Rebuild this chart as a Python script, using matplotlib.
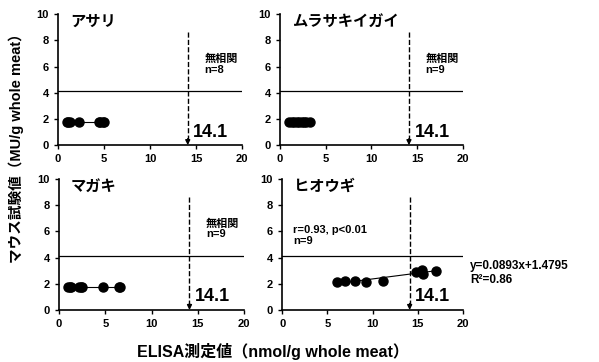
import numpy as np
import matplotlib
matplotlib.use("Agg")
import matplotlib.pyplot as plt

plt.rcParams['font.family'] = ['Liberation Sans', 'Noto Sans CJK JP', 'DejaVu Sans']
plt.rcParams['font.weight'] = 'bold'

# --- data ---
names = ['アサリ', 'ムラサキイガイ', 'マガキ', 'ヒオウギ']
asari_x = [1.0, 1.1, 1.3, 2.3, 4.4, 4.6, 4.9, 5.0]
asari_y = [1.8, 1.8, 1.8, 1.8, 1.8, 1.8, 1.8, 1.8]
murasaki_x = [1.0, 1.3, 1.6, 1.9, 2.1, 2.4, 2.6, 2.9, 3.3]
murasaki_y = [1.8, 1.8, 1.8, 1.8, 1.8, 1.8, 1.8, 1.8, 1.8]
magaki_x = [1.0, 1.2, 1.3, 2.2, 2.4, 2.5, 4.8, 6.5, 6.6]
magaki_y = [1.78, 1.78, 1.78, 1.78, 1.78, 1.78, 1.78, 1.78, 1.78]
hiougi_x = [6.1, 6.9, 8.1, 9.3, 11.1, 14.8, 15.5, 15.6, 17.0]
hiougi_y = [2.11, 2.21, 2.24, 2.11, 2.24, 2.87, 3.05, 2.75, 2.98]
slope, icpt = 0.0893, 1.4795
limit_y = 4.1
cutoff_x = 14.1
notes = ['無相関\nn=8', '無相関\nn=9', '無相関\nn=9', 'r=0.93, p<0.01\nn=9']

xs = [asari_x, murasaki_x, magaki_x, hiougi_x]
ys = [asari_y, murasaki_y, magaki_y, hiougi_y]

fig = plt.figure(figsize=(5.99, 3.62), dpi=100)
positions = [
    [0.097, 0.599, 0.307, 0.362],
    [0.467, 0.599, 0.306, 0.362],
    [0.0985, 0.1436, 0.309, 0.362],
    [0.471, 0.1436, 0.302, 0.362],
]

for i in range(4):
    ax = fig.add_axes(positions[i])
    x = np.array(xs[i])
    y = np.array(ys[i])
    ax.plot(x, y, 'o', color='black', ms=6.5)
    if i == 3:
        xl = np.array([x.min(), x.max()])
        ax.plot(xl, slope * xl + icpt, color='black', lw=0.8)
    else:
        ax.plot([x.min(), x.max()], [y.mean(), y.mean()], color='black', lw=0.8)
    ax.axhline(limit_y, color='black', lw=0.9)
    ax.plot([cutoff_x, cutoff_x], [8.6, 0.4], color='black', ls='--', lw=1.0, clip_on=False)
    ax.annotate('', xy=(cutoff_x, 0.0), xytext=(cutoff_x, 0.5),
                arrowprops=dict(arrowstyle='-|>', color='black', lw=1.0,
                                mutation_scale=7, shrinkA=0, shrinkB=0))
    ax.text(14.7, 1.0, '14.1', fontsize=13, fontweight='bold', va='center', ha='left')
    ax.text(1.3, 9.4, names[i], fontsize=11, fontweight='bold', va='center', ha='left')
    if i == 3:
        ax.text(1.2, 6.5, notes[i], fontsize=8, fontweight='bold', va='top', ha='left',
                linespacing=1.1)
    else:
        ax.text(15.9, 7.0, notes[i], fontsize=8, fontweight='bold', va='top', ha='left',
                linespacing=1.1)
    ax.set_xlim(0, 20)
    ax.set_ylim(0, 10)
    ax.set_xticks([0, 5, 10, 15, 20])
    ax.set_yticks([0, 2, 4, 6, 8, 10])
    ax.tick_params(labelsize=8, length=3, width=1)
    for lab in ax.get_xticklabels() + ax.get_yticklabels():
        lab.set_fontweight('bold')
    ax.spines['top'].set_visible(False)
    ax.spines['right'].set_visible(False)
    ax.spines['left'].set_linewidth(1.2)
    ax.spines['bottom'].set_linewidth(1.2)

fig.text(0.785, 0.21, 'y=0.0893x+1.4795\nR²=0.86', fontsize=8.5, fontweight='bold',
         va='bottom', ha='left', linespacing=1.2)
fig.text(0.027, 0.6, 'マウス試験値（MU/g whole meat）', rotation=90, fontsize=10.5,
         fontweight='bold', va='center', ha='center')
fig.text(0.455, 0.03, 'ELISA測定値（nmol/g whole meat）', fontsize=11.5,
         fontweight='bold', va='center', ha='center')

fig.savefig('out.png', dpi=100)
